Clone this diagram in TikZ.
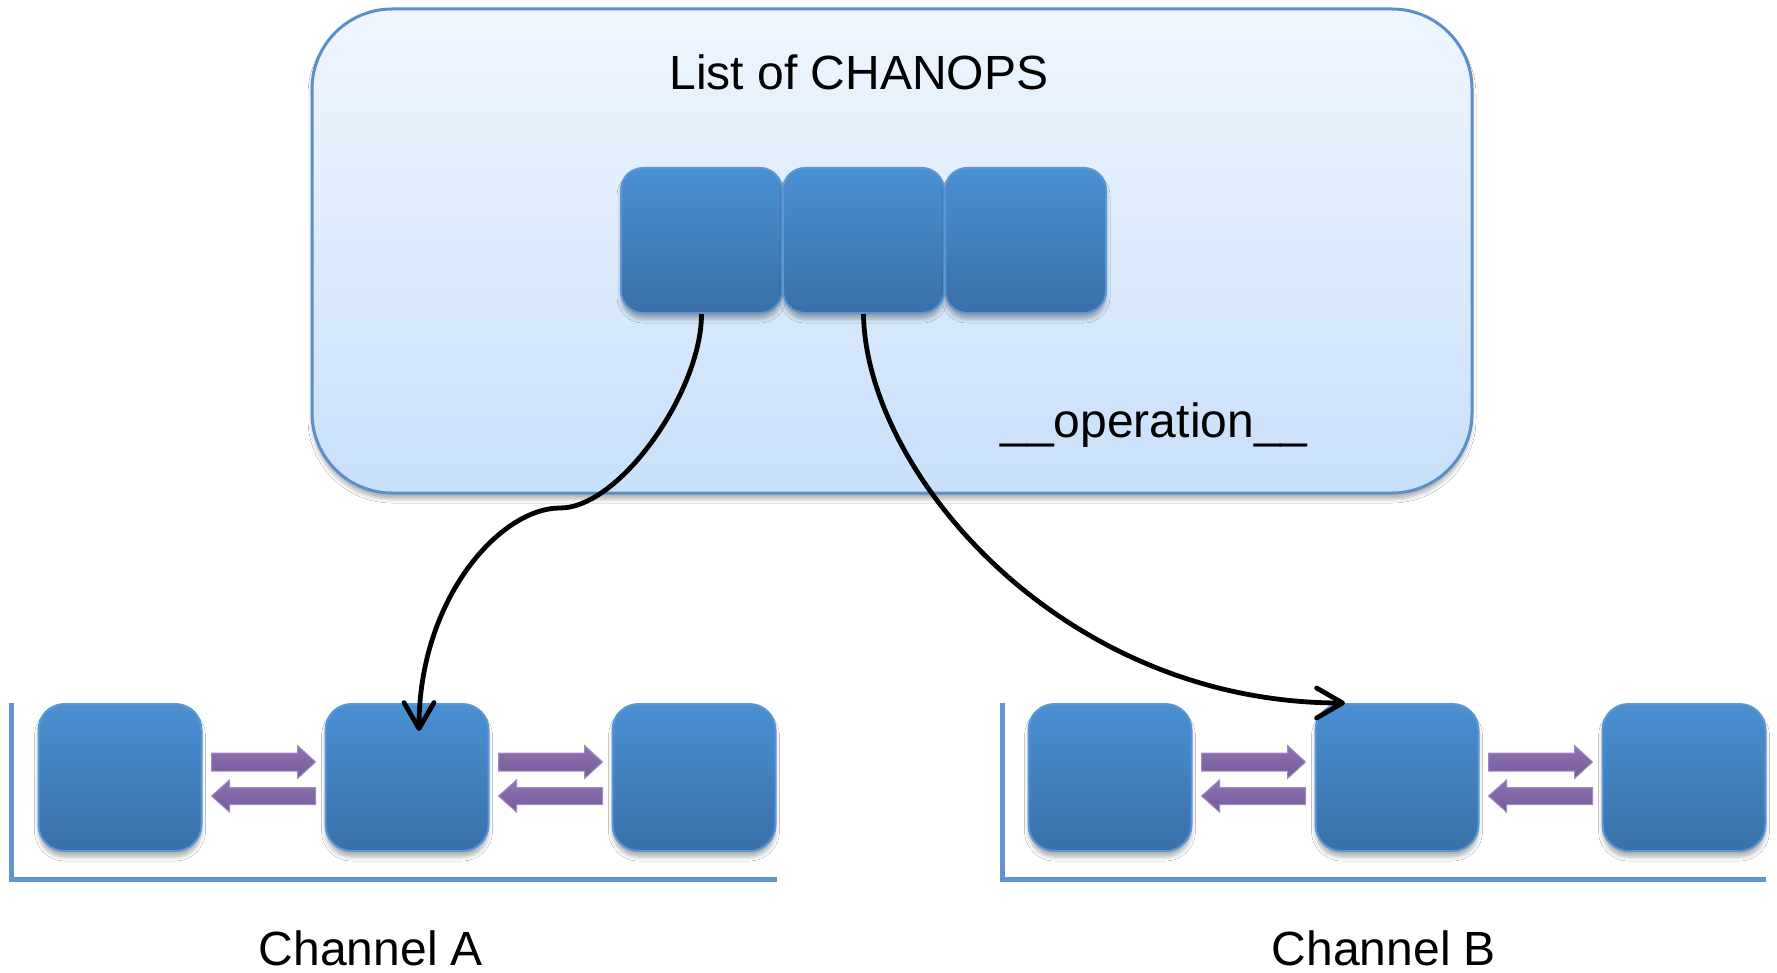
\documentclass[tikz,border=0pt]{standalone}
\usepackage{fontspec}
\setmainfont{Liberation Sans}
\usetikzlibrary{arrows.meta,shadows.blur,calc}

\definecolor{cellTop}{RGB}{74,144,211}
\definecolor{cellBot}{RGB}{58,112,168}
\definecolor{cellEdge}{RGB}{92,150,212}
\definecolor{panelTop}{RGB}{239,246,254}
\definecolor{panelBot}{RGB}{200,224,250}
\definecolor{panelEdge}{RGB}{92,142,200}
\definecolor{railBlue}{RGB}{98,148,205}
\definecolor{flowTop}{RGB}{142,114,178}
\definecolor{flowBot}{RGB}{118,90,152}
\definecolor{flowEdge}{RGB}{160,138,196}

\tikzset{
  softshadow/.style={blur shadow={shadow xshift=0pt, shadow yshift=-3pt,
      shadow blur radius=2pt, shadow opacity=30}},
  panel/.style={rectangle, rounded corners=40pt, inner sep=0pt,
      minimum width=580pt, minimum height=242pt,
      top color=panelTop, bottom color=panelBot,
      draw=panelEdge, line width=1.5pt, softshadow},
  listcell/.style={rectangle, rounded corners=11pt, inner sep=0pt,
      minimum width=80.5pt, minimum height=72.5pt,
      top color=cellTop, bottom color=cellBot,
      draw=cellEdge, line width=1pt, softshadow},
  chancell/.style={rectangle, rounded corners=13pt, inner sep=0pt,
      minimum width=81.5pt, minimum height=73.5pt,
      top color=cellTop, bottom color=cellBot,
      draw=cellEdge, line width=1pt, softshadow},
  caption/.style={font=\fontsize{24}{28}\selectfont, inner sep=0pt, anchor=base},
  link/.style={line width=2.4pt, black,
      -{Straight Barb[length=13pt, width=15pt, line cap=round, line join=round]}},
  rail/.style={draw=railBlue, line width=2.5pt},
  flowarrow/.style={top color=flowTop, bottom color=flowBot,
      draw=flowEdge, line width=0.5pt},
  pics/fwdflow/.style={code={
      \path[flowarrow] (-52,-9) -- (34,-9) -- (34,-16.5) -- (52,0)
        -- (34,16.5) -- (34,9) -- (-52,9) -- cycle;}},
  pics/backflow/.style={code={
      \path[flowarrow] (52,-8.5) -- (-34,-8.5) -- (-34,-16) -- (-52,0)
        -- (-34,16) -- (-34,8.5) -- (52,8.5) -- cycle;}},
}

\begin{document}
\begin{tikzpicture}[x=0.5pt,y=-0.5pt]
\useasboundingbox[fill=white] (0,0) rectangle (1777,973);

% operations panel with its three list cells
\node[panel] (ops) at (892,251) {};
\node[caption] (title) at (859,90) {List of CHANOPS};
\node[caption] (opname) at (1154,437) {\_\_operation\_\_};
\node[listcell] (c1) at (701.5,240.5) {};
\node[listcell] (c2) at (863.5,240.5) {};
\node[listcell] (c3) at (1025.5,240.5) {};

% channel A
\coordinate (raTop) at (11,703);
\coordinate (raEnd) at (777,879);
\draw[rail] (raTop) |- (raEnd);
\node[chancell] (a1) at (120,777.5) {};
\node[chancell] (a2) at (407,777.5) {};
\node[chancell] (a3) at (694,777.5) {};
\node[caption] (chA) at (371,965) {Channel A};

% channel B
\coordinate (rbTop) at (1002,703);
\coordinate (rbEnd) at (1766,879);
\draw[rail] (rbTop) |- (rbEnd);
\node[chancell] (b1) at (1110,777.5) {};
\node[chancell] (b2) at (1397,777.5) {};
\node[chancell] (b3) at (1684,777.5) {};
\node[caption] (chB) at (1384,965) {Channel B};

% two-way flow between neighbouring cells
\foreach \l/\r in {a1/a2,a2/a3,b1/b2,b2/b3}{
  \coordinate (gap) at ($(\l.east)!.5!(\r.west)$);
  \pic at ([yshift=7.75pt]gap) {fwdflow};
  \pic at ([yshift=-9.25pt]gap) {backflow};
}

% links from the list entries into the channels
\coordinate (bendA) at (560,508);
\draw[link] (c1.south) .. controls +(0,77) and +(60,0) .. (bendA)
  .. controls +(-60,0) and +(0,-132) .. ([xshift=6pt,yshift=-14pt]a2.north);
\draw[link] (c2.south) .. controls +(2,157) and +(-285,0) .. ([xshift=-26pt]b2.north);
\end{tikzpicture}
\end{document}
